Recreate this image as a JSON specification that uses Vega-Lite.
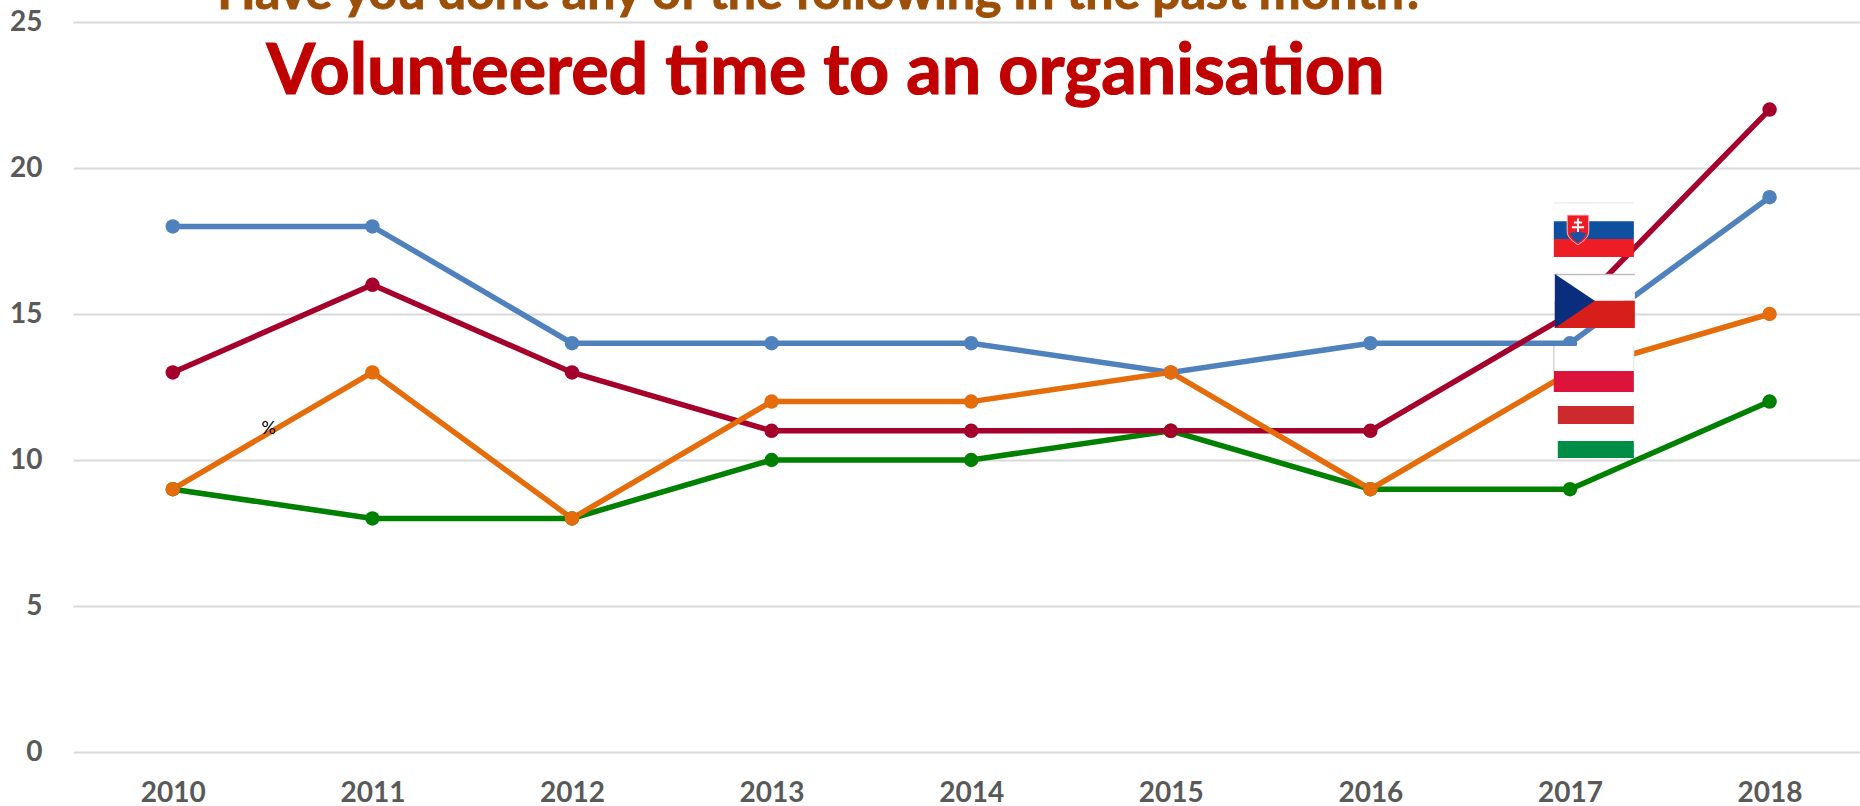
{
"$schema":"https://vega.github.io/schema/vega-lite/v6.json",
"width":1787,"height":730,
"autosize":"none",
"padding":{"left":73,"top":22,"right":0,"bottom":54},
"background":"white",
"config":{"view":{"stroke":null}},
"datasets":{
"series":[
{"year":2010,"country":"Slovakia","pct":18},{"year":2011,"country":"Slovakia","pct":18},{"year":2012,"country":"Slovakia","pct":14},{"year":2013,"country":"Slovakia","pct":14},{"year":2014,"country":"Slovakia","pct":14},{"year":2015,"country":"Slovakia","pct":13},{"year":2016,"country":"Slovakia","pct":14},{"year":2017,"country":"Slovakia","pct":14},{"year":2018,"country":"Slovakia","pct":19},
{"year":2010,"country":"Hungary","pct":9},{"year":2011,"country":"Hungary","pct":8},{"year":2012,"country":"Hungary","pct":8},{"year":2013,"country":"Hungary","pct":10},{"year":2014,"country":"Hungary","pct":10},{"year":2015,"country":"Hungary","pct":11},{"year":2016,"country":"Hungary","pct":9},{"year":2017,"country":"Hungary","pct":9},{"year":2018,"country":"Hungary","pct":12},
{"year":2010,"country":"Czechia","pct":13},{"year":2011,"country":"Czechia","pct":16},{"year":2012,"country":"Czechia","pct":13},{"year":2013,"country":"Czechia","pct":11},{"year":2014,"country":"Czechia","pct":11},{"year":2015,"country":"Czechia","pct":11},{"year":2016,"country":"Czechia","pct":11},{"year":2017,"country":"Czechia","pct":15},{"year":2018,"country":"Czechia","pct":22},
{"year":2010,"country":"Poland","pct":9},{"year":2011,"country":"Poland","pct":13},{"year":2012,"country":"Poland","pct":8},{"year":2013,"country":"Poland","pct":12},{"year":2014,"country":"Poland","pct":12},{"year":2015,"country":"Poland","pct":13},{"year":2016,"country":"Poland","pct":9},{"year":2017,"country":"Poland","pct":13},{"year":2018,"country":"Poland","pct":15}
],
"flags":[
{"band":"sk white","x0":2016.919,"x1":2017.320,"y0":18.18,"y1":18.80},
{"band":"edge light","x0":2016.919,"x1":2017.320,"y0":18.78,"y1":18.82},
{"band":"sk blue","x0":2016.919,"x1":2017.320,"y0":17.57,"y1":18.18},
{"band":"sk red","x0":2016.919,"x1":2017.320,"y0":16.95,"y1":17.57},
{"band":"cz white","x0":2016.924,"x1":2017.325,"y0":15.45,"y1":16.37},
{"band":"cz red","x0":2016.924,"x1":2017.325,"y0":14.52,"y1":15.45},
{"band":"edge","x0":2016.924,"x1":2017.325,"y0":16.33,"y1":16.38},
{"band":"pl white","x0":2016.919,"x1":2017.320,"y0":13.05,"y1":13.90},
{"band":"pl red","x0":2016.919,"x1":2017.320,"y0":12.33,"y1":13.05},
{"band":"edge","x0":2016.917,"x1":2016.922,"y0":13.05,"y1":13.90},
{"band":"edge light","x0":2017.317,"x1":2017.322,"y0":13.05,"y1":13.90},
{"band":"hu white","x0":2016.919,"x1":2017.320,"y0":11.85,"y1":12.33},
{"band":"hu red","x0":2016.939,"x1":2017.320,"y0":11.23,"y1":11.85},
{"band":"hu white","x0":2016.939,"x1":2017.320,"y0":10.65,"y1":11.23},
{"band":"hu green","x0":2016.939,"x1":2017.320,"y0":10.07,"y1":10.65}
],
"hoist":[
{"x":2016.924,"top":16.37,"bottom":14.52},
{"x":2017.124,"top":15.45,"bottom":15.45}
],
"notes":[
{"label":"Have you done any of the following in the past month?","x":2013.25,"y":25.44,"kind":"question"},
{"label":"Volunteered time to an organisation","x":2013.27,"y":22.53,"kind":"topic"},
{"label":"%","x":2010.48,"y":11.05,"kind":"unit"}
],
"arms":[{"x":2017.04,"y":17.88}]
},
"layer":[
{"data":{"name":"series"},
 "mark":{"type":"line","strokeWidth":5.5,"interpolate":"linear"},
 "encoding":{
  "x":{"field":"year","type":"quantitative","scale":{"domain":[2009.5,2018.453],"nice":false,"zero":false},
   "axis":{"values":[2010,2011,2012,2013,2014,2015,2016,2017,2018],"format":"d","title":null,"grid":false,"domain":false,"ticks":false,"labelFont":"Lato","labelFontWeight":"bold","labelFontSize":28,"labelColor":"#595959","labelPadding":27,"labelFlush":false}},
  "y":{"field":"pct","type":"quantitative","scale":{"domain":[0,25],"nice":false},
   "axis":{"values":[0,5,10,15,20,25],"title":null,"grid":true,"gridColor":"#D9D9D9","gridWidth":2,"domain":false,"ticks":false,"labelFont":"Lato","labelFontWeight":"bold","labelFontSize":28,"labelColor":"#595959","labelPadding":31}},
  "stroke":{"field":"country","type":"nominal","legend":null,"sort":["Slovakia","Hungary","Czechia","Poland"],
   "scale":{"domain":["Slovakia","Hungary","Czechia","Poland"],"range":["#4F81BD","#008000","#A5002B","#E46C0A"]}},
  "order":{"field":"year"},
  "detail":{"field":"country"}
 }},
{"data":{"name":"series"},
 "transform":[{"filter":"datum.country==='Slovakia'"}],
 "mark":{"type":"point","filled":true,"size":210,"opacity":1,"color":"#4F81BD"},
 "encoding":{"x":{"field":"year","type":"quantitative"},"y":{"field":"pct","type":"quantitative"}}},
{"data":{"name":"series"},
 "transform":[{"filter":"datum.country==='Hungary'"}],
 "mark":{"type":"point","filled":true,"size":210,"opacity":1,"color":"#008000"},
 "encoding":{"x":{"field":"year","type":"quantitative"},"y":{"field":"pct","type":"quantitative"}}},
{"data":{"name":"series"},
 "transform":[{"filter":"datum.country==='Czechia'"}],
 "mark":{"type":"point","filled":true,"size":210,"opacity":1,"color":"#A5002B"},
 "encoding":{"x":{"field":"year","type":"quantitative"},"y":{"field":"pct","type":"quantitative"}}},
{"data":{"name":"series"},
 "transform":[{"filter":"datum.country==='Poland'"}],
 "mark":{"type":"point","filled":true,"size":210,"opacity":1,"color":"#E46C0A"},
 "encoding":{"x":{"field":"year","type":"quantitative"},"y":{"field":"pct","type":"quantitative"}}},
{"data":{"name":"flags"},
 "mark":{"type":"rect"},
 "encoding":{
  "x":{"field":"x0","type":"quantitative"},"x2":{"field":"x1"},
  "y":{"field":"y0","type":"quantitative"},"y2":{"field":"y1"},
  "fill":{"field":"band","type":"nominal","legend":null,
   "scale":{"domain":["sk white","sk blue","sk red","cz white","cz red","pl white","pl red","hu white","hu red","hu green","edge","edge light"],
    "range":["#FFFFFF","#0F4FA0","#EE1C25","#FFFFFF","#D81E1A","#FFFFFF","#DC143C","#FFFFFF","#CD2A2E","#008D46","#BDBDBD","#E6E6E6"]}}
 }},
{"data":{"name":"hoist"},
 "mark":{"type":"area","color":"#0B2D7E","opacity":1},
 "encoding":{"x":{"field":"x","type":"quantitative"},"y":{"field":"top","type":"quantitative"},"y2":{"field":"bottom"}}},
{"data":{"name":"arms"},
 "mark":{"type":"point","filled":true,"opacity":1,"fill":"#EE1C25","stroke":"#F2C9C9","strokeWidth":1,"size":730,"shape":"M-0.8,-1.1 L0.8,-1.1 L0.8,0.1 C0.8,0.6 0.3,0.9 0,1.1 C-0.3,0.9 -0.8,0.6 -0.8,0.1 Z"},
 "encoding":{"x":{"field":"x","type":"quantitative"},"y":{"field":"y","type":"quantitative"}}},
{"data":{"name":"arms"},
 "mark":{"type":"point","filled":true,"opacity":1,"fill":"#1F4FA0","strokeWidth":0,"size":730,"shape":"M-0.62,0.3 C-0.4,0.1 -0.3,0.25 -0.2,0.15 C-0.1,0 0.1,0 0.2,0.15 C0.3,0.25 0.4,0.1 0.62,0.3 C0.45,0.6 0.2,0.8 0,0.95 C-0.2,0.8 -0.45,0.6 -0.62,0.3 Z"},
 "encoding":{"x":{"field":"x","type":"quantitative"},"y":{"field":"y","type":"quantitative"}}},
{"data":{"name":"arms"},
 "mark":{"type":"point","filled":false,"opacity":1,"stroke":"#FFFFFF","strokeWidth":2,"size":730,"shape":"M0,-0.85 L0,0.15 M-0.3,-0.55 L0.3,-0.55 M-0.45,-0.2 L0.45,-0.2"},
 "encoding":{"x":{"field":"x","type":"quantitative"},"y":{"field":"y","type":"quantitative"}}},
{"data":{"name":"notes"},
 "transform":[{"filter":"datum.kind==='question'"}],
 "mark":{"type":"text","font":"Lato","fontWeight":"bold","fontSize":50,"color":"#9C4F08","stroke":"#9C4F08","strokeWidth":1,"align":"center","baseline":"alphabetic"},
 "encoding":{"x":{"field":"x","type":"quantitative"},"y":{"field":"y","type":"quantitative"},"text":{"field":"label"}}},
{"data":{"name":"notes"},
 "transform":[{"filter":"datum.kind==='topic'"}],
 "mark":{"type":"text","font":"Lato","fontWeight":"bold","fontSize":70,"color":"#C00000","stroke":"#C00000","strokeWidth":1.2,"align":"center","baseline":"alphabetic"},
 "encoding":{"x":{"field":"x","type":"quantitative"},"y":{"field":"y","type":"quantitative"},"text":{"field":"label"}}},
{"data":{"name":"notes"},
 "transform":[{"filter":"datum.kind==='unit'"}],
 "mark":{"type":"text","font":"Lato","fontSize":18,"color":"#000000","align":"center","baseline":"middle"},
 "encoding":{"x":{"field":"x","type":"quantitative"},"y":{"field":"y","type":"quantitative"},"text":{"field":"label"}}}
]
}
